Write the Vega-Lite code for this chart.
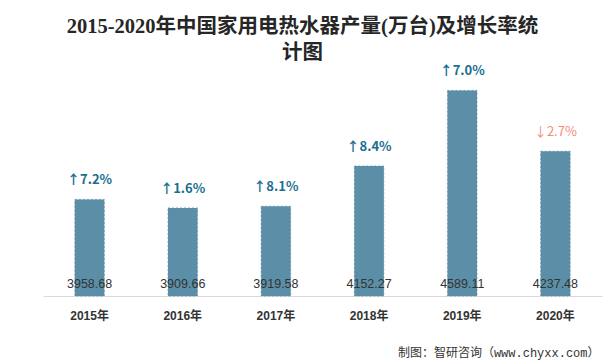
{
  "$schema": "https://vega.github.io/schema/vega-lite/v6.json",
  "width": 559,
  "height": 232,
  "padding": {"left": 43, "right": 4, "top": 16, "bottom": 4},
  "background": "white",
  "title": {
    "text": ["2015-2020年中国家用电热水器产量(万台)及增长率统", "计图"],
    "font": "Liberation Serif, Noto Sans CJK SC",
    "fontSize": 20.5,
    "fontWeight": "bold",
    "color": "#262626",
    "lineHeight": 26,
    "anchor": "middle",
    "dx": -20,
    "offset": 1
  },
  "config": {"view": {"stroke": null}},
  "data": {
    "values": [
      {"year": "2015年", "value": 3958.68, "label": "↑7.2%", "dir": "up"},
      {"year": "2016年", "value": 3909.66, "label": "↑1.6%", "dir": "up"},
      {"year": "2017年", "value": 3919.58, "label": "↑8.1%", "dir": "up"},
      {"year": "2018年", "value": 4152.27, "label": "↑8.4%", "dir": "up"},
      {"year": "2019年", "value": 4589.11, "label": "↑7.0%", "dir": "up"},
      {"year": "2020年", "value": 4237.48, "label": "↓2.7%", "dir": "down"}
    ]
  },
  "encoding": {
    "x": {
      "field": "year",
      "type": "nominal",
      "sort": null,
      "scale": {"paddingInner": 0.683, "paddingOuter": 0.3415},
      "axis": {
        "title": "制图：智研咨询（www.chyxx.com）",
        "titleFont": "Liberation Mono, Noto Sans CJK SC",
        "titleFontSize": 12,
        "titleFontWeight": "normal",
        "titleColor": "#333333",
        "titleAnchor": "end",
        "titleAlign": "right",
        "titleX": 556,
        "titleY": 56,
        "titleBaseline": "middle",
        "labelAngle": 0,
        "labelFont": "Liberation Sans, Noto Sans CJK SC",
        "labelFontSize": 12,
        "labelFontWeight": "bold",
        "labelColor": "#333333",
        "labelPadding": 14,
        "ticks": false,
        "domainColor": "#d9d9d9",
        "domainWidth": 1
      }
    },
    "y": {
      "field": "value",
      "type": "quantitative",
      "scale": {"domain": [3400, 4742], "zero": false, "nice": false, "clamp": true},
      "axis": null
    }
  },
  "layer": [
    {
      "mark": {"type": "bar", "color": "#5b8fa7", "stroke": "#52849c", "strokeWidth": 0.6, "strokeDash": [2, 2]}
    },
    {
      "mark": {"type": "text", "font": "Liberation Sans", "fontSize": 12.5, "color": "#333333", "baseline": "middle", "dy": -12},
      "encoding": {
        "y": {"datum": 3400},
        "text": {"field": "value", "type": "quantitative", "format": ".2f"}
      }
    },
    {
      "transform": [{"filter": "datum.dir == 'up'"}],
      "mark": {"type": "text", "font": "Noto Sans CJK SC", "fontSize": 13, "fontWeight": "bold", "color": "#1a6e91", "baseline": "middle", "dy": -19},
      "encoding": {"text": {"field": "label"}}
    },
    {
      "transform": [{"filter": "datum.dir == 'down'"}],
      "mark": {"type": "text", "font": "Noto Sans CJK SC", "fontSize": 13, "color": "#f28e78", "baseline": "middle", "dy": -19},
      "encoding": {"text": {"field": "label"}}
    }
  ]
}
